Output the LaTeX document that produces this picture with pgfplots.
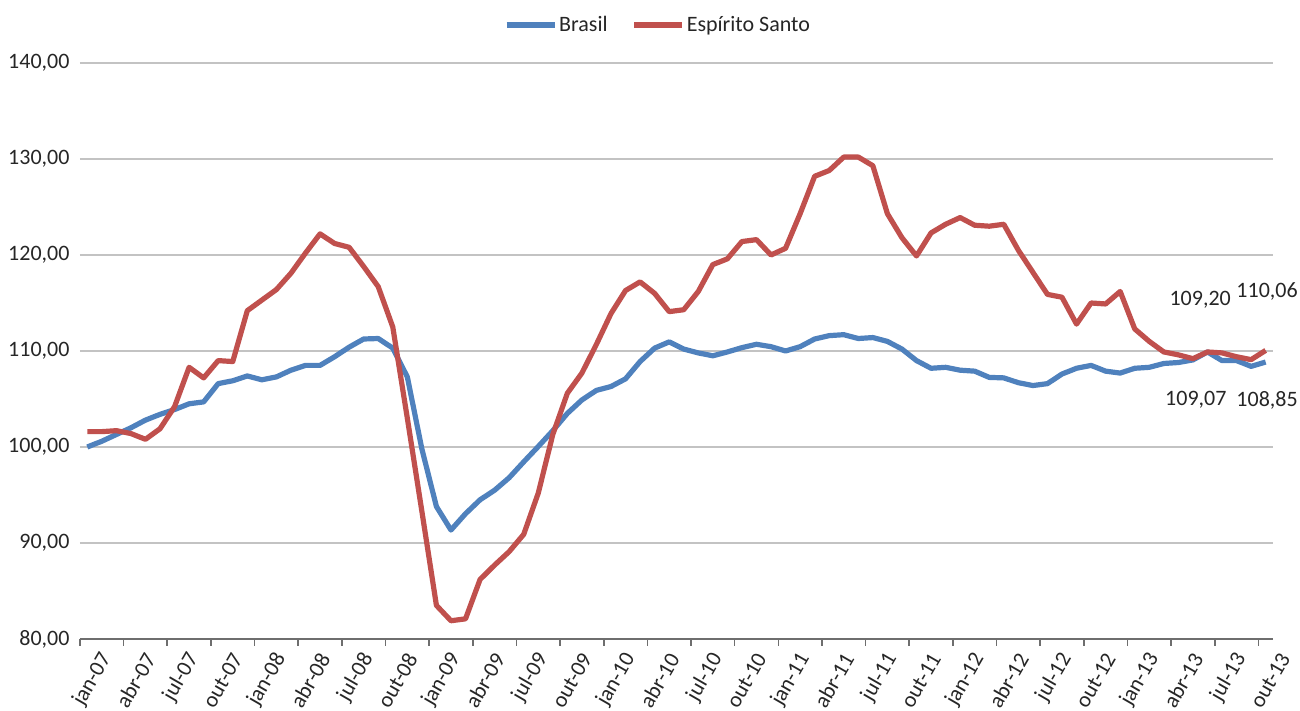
\documentclass[border=0pt]{standalone}
\usepackage{fontspec}
\setmainfont{Carlito}
\usepackage{pgfplots}
\pgfplotsset{compat=1.18}
\definecolor{serBlue}{HTML}{4F81BD}
\definecolor{serRed}{HTML}{C0504D}
\definecolor{gridc}{HTML}{C3C3C3}
\definecolor{axc}{HTML}{6E6E6E}
\definecolor{txt}{HTML}{262626}
\newcommand{\lblfont}{\fontsize{22}{26}\selectfont}

\pgfplotstableread{
i br es
0 100.0 101.6
1 100.6 101.6
2 101.3 101.7
3 102.0 101.4
4 102.8 100.8
5 103.4 101.9
6 103.9 104.2
7 104.5 108.3
8 104.7 107.2
9 106.6 109.0
10 106.9 108.9
11 107.4 114.2
12 107.0 115.3
13 107.3 116.4
14 108.0 118.1
15 108.5 120.2
16 108.5 122.2
17 109.4 121.2
18 110.4 120.8
19 111.25 118.8
20 111.3 116.7
21 110.3 112.5
22 107.3 103.0
23 99.8 93.3
24 93.8 83.5
25 91.35 81.9
26 93.05 82.1
27 94.5 86.2
28 95.5 87.7
29 96.8 89.1
30 98.45 90.9
31 100.05 95.2
32 101.7 101.3
33 103.5 105.6
34 104.9 107.7
35 105.9 110.7
36 106.3 113.9
37 107.1 116.3
38 108.9 117.2
39 110.3 116.0
40 110.95 114.1
41 110.2 114.3
42 109.8 116.2
43 109.5 119.0
44 109.9 119.6
45 110.35 121.4
46 110.7 121.6
47 110.45 120.0
48 110.0 120.7
49 110.45 124.3
50 111.25 128.2
51 111.6 128.8
52 111.7 130.2
53 111.3 130.2
54 111.4 129.3
55 111.0 124.3
56 110.2 121.8
57 109.0 119.9
58 108.2 122.3
59 108.3 123.2
60 108.0 123.9
61 107.9 123.1
62 107.25 123.0
63 107.2 123.2
64 106.7 120.5
65 106.4 118.2
66 106.6 115.9
67 107.6 115.6
68 108.2 112.8
69 108.5 115.0
70 107.9 114.9
71 107.7 116.2
72 108.2 112.3
73 108.3 111.0
74 108.7 109.9
75 108.8 109.6
76 109.07 109.2
77 109.9 109.9
78 109.0 109.8
79 109.0 109.4
80 108.4 109.1
81 108.85 110.06
}\datatable

\begin{document}
\begin{tikzpicture}[x=1pt,y=1pt]
\begin{axis}[
  at={(0,0)}, anchor=south west,
  scale only axis, width=1193pt, height=576pt,
  xmin=-0.5, xmax=81.5, ymin=80, ymax=140,
  axis x line=bottom, axis y line=left,
  x axis line style={-, draw=axc, line width=2.6pt},
  y axis line style={draw=none},
  ytick={80,90,...,140},
  ymajorgrids, major grid style={gridc, line width=1.4pt},
  xtick={0,3,...,81},
  xticklabels={jan-07,abr-07,jul-07,out-07,jan-08,abr-08,jul-08,out-08,jan-09,abr-09,jul-09,out-09,jan-10,abr-10,jul-10,out-10,jan-11,abr-11,jul-11,out-11,jan-12,abr-12,jul-12,out-12,jan-13,abr-13,jul-13,out-13},
  minor xtick={-0.5,2.5,...,80.5},
  tick align=outside,
  major tick length=0pt, minor tick length=7pt,
  minor tick style={draw=axc, line width=1.6pt},
  xticklabel style={xshift=21pt, yshift=-13pt, rotate=60, anchor=east, font=\lblfont, text=txt},
  yticklabel style={font=\lblfont, text=txt, xshift=-7pt},
  /pgf/number format/assume math mode=true,
  y tick label style={/pgf/number format/.cd, fixed, fixed zerofill, precision=2, use comma},
  legend style={at={(0.4845,1.066)}, anchor=center, draw=none, fill=none, font=\lblfont, text=txt, legend columns=2, /tikz/every even column/.append style={column sep=22pt}},
  legend image code/.code={\draw[#1] (0pt,0pt) -- (48pt,0pt);},
  clip=false,
]
\addplot[serBlue, line width=5.2pt, line join=round] table[x=i, y=br] {\datatable};
\addlegendentry{Brasil}
\addplot[serRed, line width=5.2pt, line join=round] table[x=i, y=es] {\datatable};
\addlegendentry{Espírito Santo}
\node[font=\lblfont, text=txt] at (axis cs:76.5,115.3) {109,20};
\node[font=\lblfont, text=txt] at (axis cs:81.1,116.25) {110,06};
\node[font=\lblfont, text=txt] at (axis cs:76.2,104.9) {109,07};
\node[font=\lblfont, text=txt] at (axis cs:81.1,104.9) {108,85};
\end{axis}
\pgfresetboundingbox
\path (-80,-72) rectangle (1220,639);
\end{tikzpicture}
\end{document}
